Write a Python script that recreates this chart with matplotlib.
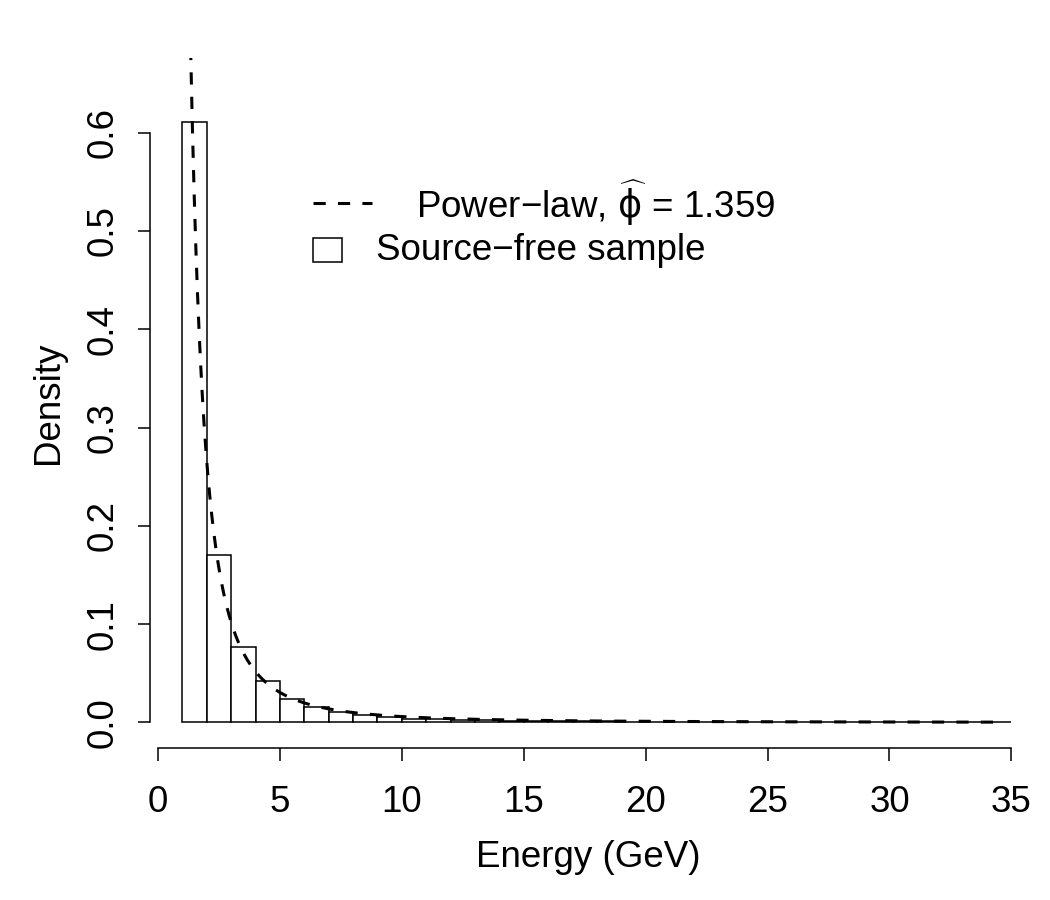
import numpy as np
import matplotlib
matplotlib.use("Agg")
import matplotlib.pyplot as plt
from matplotlib.lines import Line2D
from matplotlib.patches import Rectangle

# ---- data ----
bin_edges = list(range(1, 36))  # 1..35 GeV, width 1
density = [0.611, 0.170, 0.077, 0.042, 0.024, 0.016, 0.011, 0.0078, 0.0055,
           0.0040, 0.0032, 0.0026, 0.0021, 0.0018, 0.0015, 0.0013, 0.0011,
           0.0010, 0.0009, 0.0008, 0.0007, 0.0006, 0.0006, 0.0005, 0.0005,
           0.0004, 0.0004, 0.0004, 0.0003, 0.0003, 0.0003, 0.0003, 0.0002,
           0.0002]
phi_hat = 1.359
x_min, x_max = 1.0, 34.3
x_ticks = [0, 5, 10, 15, 20, 25, 30, 35]
y_ticks = [0.0, 0.1, 0.2, 0.3, 0.4, 0.5, 0.6]

plt.rcParams['font.family'] = ['Liberation Sans', 'DejaVu Sans']
plt.rcParams['mathtext.fontset'] = 'custom'
plt.rcParams['mathtext.rm'] = 'DejaVu Sans'
plt.rcParams['mathtext.it'] = 'DejaVu Sans:italic'
FS = 26.5

fig = plt.figure(figsize=(10.5, 9), dpi=100)
ax = fig.add_axes([150/1050, 1-748/900, (1026-150)/1050, (748-58)/900])

left = bin_edges[:-1]
ax.bar(left, density, width=1.0, align='edge', facecolor='white',
       edgecolor='black', linewidth=1.1)

xx = np.linspace(x_min, x_max, 2000)
yy = phi_hat * xx ** (-(phi_hat + 1))
ax.plot(xx, yy, color='black', lw=2.2, linestyle=(0, (4, 4)))

ax.set_xlim(-0.33, 35.6)
ax.set_ylim(-0.026, 0.676)

for s in ['top', 'right']:
    ax.spines[s].set_visible(False)
ax.spines['left'].set_bounds(0, 0.6)
ax.spines['bottom'].set_bounds(0, 35)
ax.spines['left'].set_linewidth(1.1)
ax.spines['bottom'].set_linewidth(1.1)

ax.set_xticks(x_ticks)
ax.set_xticklabels([str(t) for t in x_ticks], fontsize=FS)
ax.set_yticks(y_ticks)
ax.set_yticklabels([f"{t:.1f}" for t in y_ticks], fontsize=FS, rotation=90,
                   va='center')
ax.tick_params(axis='x', direction='out', length=9, width=1.1, pad=18)
ax.tick_params(axis='y', direction='out', length=9, width=1.1, pad=12)

ax.set_xlabel("Energy (GeV)", fontsize=FS, labelpad=14)
ax.set_ylabel("Density", fontsize=FS, labelpad=14)

# legend drawn manually (R style)
def px(x, y):
    return (x / 1050, 1 - y / 900)

fig.add_artist(Line2D([313/1050, 372/1050], [1-203/900, 1-203/900],
                      color='black', lw=2.2, linestyle=(0, (4, 4)),
                      transform=fig.transFigure))
fig.text(*px(416, 203), "Power\u2212law, $\\widehat{\\mathrm{\u03d5}}$ = 1.359",
         fontsize=FS, va='center', ha='left')
fig.add_artist(Rectangle(px(313, 262), 29/1050, 24/900, facecolor='white',
                         edgecolor='black', lw=1.1, transform=fig.transFigure))
fig.text(*px(376, 250), "Source\u2212free sample", fontsize=FS,
         va='center', ha='left')

fig.savefig("out.png", dpi=100)
